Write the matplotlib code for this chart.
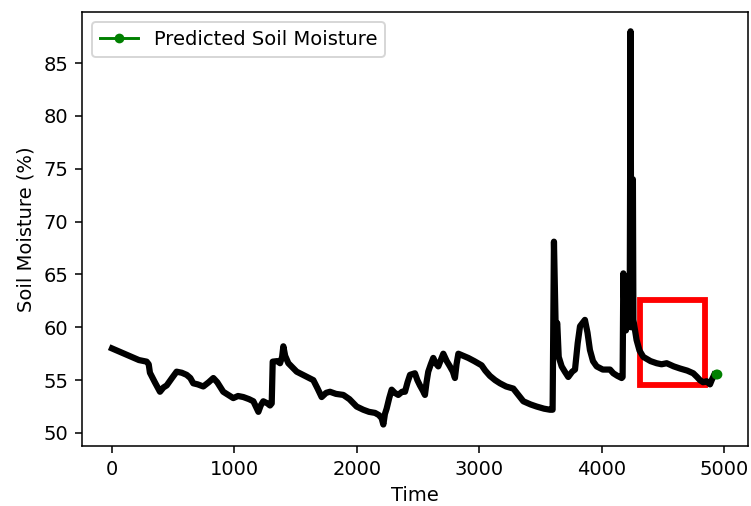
import matplotlib
matplotlib.use("Agg")
import matplotlib.pyplot as plt
from matplotlib.patches import Rectangle

time_obs = [0, 40, 100, 160, 220, 283, 300, 310, 350, 392, 420, 447, 490, 528, 570, 610, 640, 664, 700, 746,
            790, 828, 860, 909, 950, 991, 1030, 1073, 1120, 1155, 1196, 1215, 1236, 1270, 1291, 1305, 1313, 1350,
            1373, 1390, 1400, 1415, 1441, 1475, 1509, 1560, 1610, 1645, 1680, 1713, 1750, 1781, 1830, 1890, 1940,
            1999, 2053, 2100, 2149, 2180, 2203, 2217, 2230, 2244, 2265, 2285, 2310, 2339, 2370, 2394, 2415, 2435,
            2475, 2495, 2516, 2540, 2557, 2570, 2584, 2605, 2625, 2645, 2666, 2690, 2707, 2735, 2761, 2785, 2802,
            2815, 2830, 2870, 2911, 2960, 3020, 3050, 3088, 3130, 3170, 3220, 3279, 3320, 3361, 3420, 3470, 3530,
            3578, 3600, 3611, 3625, 3638, 3650, 3674, 3700, 3728, 3760, 3783, 3805, 3824, 3864, 3885, 3905, 3930,
            3960, 4010, 4069, 4096, 4130, 4164, 4172, 4178, 4190, 4199, 4219, 4230, 4237, 4243, 4252, 4256, 4260,
            4286, 4310, 4341, 4400, 4450, 4490, 4532, 4590, 4641, 4700, 4749, 4780, 4804, 4830, 4858, 4886, 4900,
            4920]
moisture_obs = [58.0, 57.8, 57.5, 57.2, 56.9, 56.75, 56.5, 55.7, 54.8, 53.9, 54.3, 54.5, 55.2, 55.8, 55.7, 55.5,
                55.2, 54.7, 54.6, 54.4, 54.8, 55.2, 54.8, 53.9, 53.6, 53.3, 53.5, 53.4, 53.2, 53.0, 52.0, 52.6,
                53.0, 52.8, 52.6, 52.8, 56.75, 56.8, 56.6, 57.2, 58.2, 57.3, 56.6, 56.2, 55.8, 55.5, 55.2, 55.0,
                54.2, 53.4, 53.8, 53.9, 53.7, 53.6, 53.2, 52.5, 52.2, 52.0, 51.9, 51.7, 51.4, 50.8, 51.8, 52.3,
                53.3, 54.1, 53.8, 53.6, 53.9, 53.9, 54.8, 55.5, 55.65, 55.0, 54.5, 54.0, 53.6, 54.8, 55.8, 56.5,
                57.1, 56.6, 56.3, 57.0, 57.5, 56.8, 56.3, 55.8, 55.2, 56.5, 57.5, 57.3, 57.1, 56.8, 56.4, 55.9,
                55.4, 55.0, 54.7, 54.4, 54.2, 53.6, 53.0, 52.7, 52.5, 52.3, 52.2, 52.2, 68.1, 60.0, 60.4, 57.2,
                56.3, 55.8, 55.3, 55.8, 56.0, 58.5, 60.1, 60.7, 59.5, 57.85, 56.8, 56.3, 56.0, 56.0, 55.65, 55.4,
                55.2, 55.3, 65.1, 60.5, 59.7, 60.7, 62.0, 88.0, 60.0, 60.3, 74.0, 60.7, 58.8, 57.8, 57.2, 56.8,
                56.6, 56.5, 56.6, 56.3, 56.1, 55.9, 55.65, 55.3, 55.0, 54.8, 54.9, 54.6, 55.0, 55.5]

time_pred = [4938, 4945]
moisture_pred = [55.6, 55.6]

box_x, box_y, box_w, box_h = 4315, 54.5, 530, 8.1

fig = plt.figure(figsize=(751 / 140, 506 / 140), dpi=140)
ax = fig.add_axes([0.1092, 0.1186, 0.9956 - 0.1092, 0.9753 - 0.1186])

ax.plot(time_obs, moisture_obs, color="black", linewidth=3.2, zorder=3)
ax.plot(time_pred, moisture_pred, color="green", marker="o", markersize=4,
        linewidth=1.5, label="Predicted Soil Moisture", zorder=4)
ax.add_patch(Rectangle((box_x, box_y), box_w, box_h, fill=False, edgecolor="red",
                       linewidth=3, zorder=2))

ax.set_xlim(-245, 5194)
ax.set_ylim(48.77, 89.78)
ax.set_xticks([0, 1000, 2000, 3000, 4000, 5000])
ax.set_yticks([50, 55, 60, 65, 70, 75, 80, 85])
ax.set_xlabel("Time")
ax.set_ylabel("Soil Moisture (%)")
ax.legend(loc="upper left")

fig.savefig("out.png", dpi=140)
